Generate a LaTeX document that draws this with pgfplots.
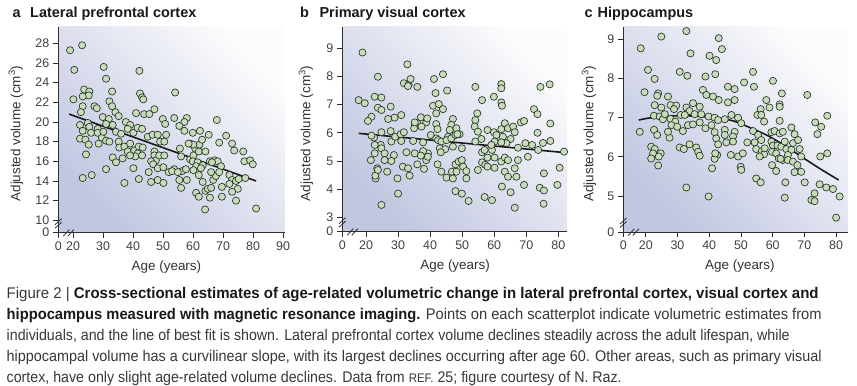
\documentclass[border=0pt]{standalone}
\usepackage{fontspec}
\setmainfont{Liberation Sans}
\usepackage{graphicx}
\usepackage{pgfplots}
\pgfplotsset{compat=1.18}

\definecolor{ptfill}{RGB}{198,220,186}
\definecolor{ptdraw}{RGB}{38,48,38}
\definecolor{bglow}{RGB}{193,198,225}
\definecolor{bghigh}{RGB}{252,252,253}
\definecolor{axcol}{RGB}{45,45,45}
\definecolor{tickcol}{RGB}{64,64,64}
\definecolor{labcol}{RGB}{50,50,50}
\definecolor{captxt}{RGB}{55,55,55}
\definecolor{capbold}{RGB}{25,25,25}

\newlength\capw
\newcommand\capline[2]{\setbox0=\hbox{#2}\capw=\wd0\relax\pgfmathsetmacro\capsx{#1*1.00375/\capw}\scalebox{\capsx}[1]{\box0}}
\newcommand\cb[1]{\textcolor{capbold}{\textbf{#1}}}

\pgfplotsset{
  panel/.style={
    scale only axis, clip=true,
    axis x line=bottom, axis y line=left,
    axis line style={-, draw=axcol, line width=1pt},
    x axis line style={-}, y axis line style={-},
    tick align=outside, major tick length=5.5bp,
    every tick/.style={draw=axcol, line width=0.9pt},
    minor tick num=0,
    ticklabel style={font=\fontsize{12.5}{12.5}\selectfont, text=tickcol},
    label style={font=\fontsize{13.5}{13.5}\selectfont, text=labcol},
    axis background/.style={shade, bottom color=bglow, top color=bghigh, shading angle=-45},
    xlabel={Age (years)},
    ylabel={Adjusted volume (cm\textsuperscript{3})},
  },
  dots/.style={only marks, mark=*, mark size=3.6pt, mark options={fill=ptfill, draw=ptdraw, line width=0.65pt}},
  fitline/.style={no marks, line width=1.6pt, color={rgb,255:red,25;green,25;blue,25}},
}

\begin{document}
\begin{tikzpicture}
\path[use as bounding box] (0bp,0bp) rectangle (857bp,386bp);

% titles
\begin{scope}[every node/.style={anchor=base west, inner sep=0pt, text={rgb,255:red,25;green,25;blue,25}, font=\bfseries\fontsize{14.5}{14.5}\selectfont}]
\node at (12.5bp,368.5bp) {a};
\node at (30bp,368.5bp) {Lateral prefrontal cortex};
\node at (300bp,368.5bp) {b};
\node at (319.3bp,368.5bp) {Primary visual cortex};
\node at (584.5bp,368.5bp) {c};
\node at (597.5bp,368.5bp) {Hippocampus};
\end{scope}

% ---------------- panel a
\begin{axis}[panel, name=A, at={(58.3bp,153.3bp)}, anchor=south west,
  width=226.7bp, height=205.7bp,
  xmin=15.07, xmax=90.63, ymin=8.74, ymax=29.66,
  xtick={15.07,20,30,40,50,60,70,80,90}, xticklabels={0,20,30,40,50,60,70,80,90},
  ytick={8.74,10,12,14,16,18,20,22,24,26,28}, yticklabels={0,10,12,14,16,18,20,22,24,26,28},
  xlabel style={at={(axis description cs:0.477,-0.165)}, anchor=center},
  ylabel style={at={(axis description cs:-0.187,0.482)}, anchor=center}]
\addplot[fitline] coordinates {(18.7,20.8) (81,14.0)};
\addplot[dots] coordinates {
(19.0,27.3) (23.0,27.8) (20.4,25.3) (30.2,25.6) (31.0,24.4) (42.1,25.2) (54.0,23.0)
(20.1,22.3) (23.7,23.3) (25.4,23.1) (25.2,22.7) (23.2,22.6) (23.2,21.6) (22.6,21.0) (27.1,21.6) (27.9,21.4)
(33.0,23.1) (32.1,22.1) (33.0,21.6) (34.1,21.0) (35.2,20.6) (29.9,20.5) (31.9,20.3) (31.0,19.8) (42.3,22.9)
(43.0,22.5) (43.4,22.3) (41.0,20.9) (43.7,20.8) (45.4,20.8) (47.1,21.3) (49.9,20.3) (50.7,19.8) (53.7,20.4)
(57.9,20.4) (57.1,20.0) (55.4,19.6) (57.1,19.1) (59.9,18.9) (62.3,19.1) (65.2,18.7) (67.9,20.2) (71.0,18.6)
(68.7,17.9) (73.0,17.8) (73.7,17.1) (76.7,17.0) (77.1,16.0) (79.0,16.1) (79.9,15.7) (81.0,11.2) (64.0,11.1)
(22.3,19.7) (24.9,19.9) (25.4,19.5) (23.2,19.1) (26.0,18.9) (28.2,19.3) (28.2,18.9) (22.3,18.3) (24.1,18.2)
(25.2,17.7) (24.3,16.7) (28.5,17.8) (29.6,18.4) (31.0,18.1) (32.1,18.0) (30.1,19.0) (33.2,19.7) (34.3,19.0)
(36.0,18.8) (37.6,20.0) (39.0,19.7) (38.2,19.3) (40.1,18.9) (41.5,19.4) (43.0,19.3) (44.9,18.5) (46.5,18.7)
(48.2,18.7) (49.0,18.0) (50.4,18.0) (51.0,18.7) (35.2,18.0) (35.4,17.4) (37.1,17.5) (39.0,17.8) (38.2,17.0)
(40.4,17.1) (41.9,17.5) (43.2,17.4) (41.5,16.8) (43.0,16.6) (40.7,16.5) (39.0,16.6) (36.5,16.3) (33.2,16.4)
(34.3,15.9) (31.0,15.2) (23.2,14.3) (26.2,14.6) (37.1,13.8) (40.1,15.3) (41.9,14.2) (45.2,14.9) (46.0,13.9)
(48.2,14.1) (50.1,13.8) (47.1,17.0) (47.1,16.6) (47.6,16.1) (46.0,16.0) (46.7,15.7) (48.7,16.6) (50.4,16.6)
(48.2,15.3) (50.1,15.4) (51.9,14.9) (53.7,15.2) (53.0,15.0) (55.6,17.3) (56.0,16.5) (56.3,15.0) (54.9,14.9)
(55.4,14.1) (56.0,13.3) (57.9,14.1) (57.6,15.2) (59.0,16.2) (59.0,17.8) (60.7,17.3) (60.1,16.6) (59.9,16.0)
(61.5,15.9) (61.0,15.5) (60.1,15.1) (61.9,17.0) (62.1,17.7) (63.0,18.2) (64.1,17.0) (63.2,15.6) (62.6,15.3)
(61.9,14.6) (63.2,13.9) (64.1,13.0) (64.9,13.2) (61.0,12.8) (61.9,12.4) (65.6,12.3) (66.0,13.3) (66.7,14.1)
(67.6,14.5) (66.0,14.9) (67.1,16.1) (68.2,16.0) (69.3,15.5) (68.7,14.9) (65.6,16.0) (66.3,15.9) (69.6,13.4)
(69.6,12.4) (72.1,14.6) (73.0,14.1) (72.1,13.7) (74.3,14.0) (75.2,14.2) (74.9,13.2) (73.0,12.9) (74.3,12.0)
(77.4,14.3) (60.1,17.7) (58.5,17.8)
};
\end{axis}

% ---------------- panel b
\begin{axis}[panel, name=B, at={(342.3bp,154.3bp)}, anchor=south west,
  width=224.7bp, height=204.7bp,
  xmin=12.60, xmax=82.7, ymin=2.489, ymax=9.756,
  xtick={12.60,20,30,40,50,60,70,80}, xticklabels={0,20,30,40,50,60,70,80},
  ytick={2.489,3,4,5,6,7,8,9}, yticklabels={0,3,4,5,6,7,8,9},
  xlabel style={at={(axis description cs:0.502,-0.166)}, anchor=center},
  ylabel style={at={(axis description cs:-0.1616,0.48)}, anchor=center}]
\addplot[fitline] coordinates {(17.7,5.98) (82.7,5.29)};
\addplot[dots] coordinates {
(18.9,8.85) (32.9,8.43) (23.7,7.99) (31.8,7.76) (33.3,7.72) (33.9,7.91) (33.1,7.66) (36.0,7.63) (41.2,7.91)
(44.0,8.08) (41.7,7.41) (45.3,7.50) (54.1,7.63) (62.2,7.73) (62.2,7.58) (77.3,7.72) (74.4,7.63) (56.2,7.16)
(59.9,7.28) (62.2,7.08) (62.4,6.96) (17.7,7.16) (19.6,7.05) (22.7,7.28) (24.8,7.25) (23.7,6.89) (24.8,6.81)
(27.7,6.93) (31.0,6.63) (28.9,6.54) (26.9,6.49) (21.7,6.57) (20.6,6.42) (37.1,6.55) (38.8,6.37) (36.0,6.34)
(35.2,6.28) (35.0,6.16) (37.3,6.22) (40.9,6.96) (42.7,7.02) (44.0,6.84) (41.9,6.69) (41.9,6.31) (42.3,6.13)
(47.1,6.49) (46.6,6.28) (48.2,6.16) (46.1,6.10) (49.2,5.95) (54.7,6.69) (54.1,6.45) (53.9,6.22) (54.9,6.04)
(57.9,6.10) (59.9,6.02) (60.7,5.92) (62.2,6.13) (63.3,6.34) (64.3,6.16) (65.9,6.22) (66.4,6.02) (68.3,6.37)
(69.3,6.42) (72.4,6.84) (73.5,6.66) (73.5,6.00) (77.5,6.33) (75.2,5.64) (77.5,5.71) (81.8,5.33) (80.4,4.76)
(79.7,4.15) (74.2,4.05) (75.5,3.95) (75.4,3.48) (66.4,3.34) (65.1,3.89) (69.3,4.15) (62.4,4.09) (59.3,3.61)
(57.0,3.72) (52.0,3.58) (49.9,3.84) (47.9,3.93) (30.0,3.84) (24.8,3.44) (29.8,4.38) (26.6,4.62) (23.0,4.38)
(22.9,4.48) (23.5,4.74) (21.5,5.03) (22.7,5.27) (24.6,5.57) (24.8,5.45) (22.5,5.83) (21.7,5.90) (22.7,5.57)
(24.8,6.02) (27.7,6.06) (27.9,5.69) (29.1,5.86) (30.8,5.95) (31.8,6.02) (31.0,5.71) (32.6,5.31) (35.2,5.27)
(34.7,5.71) (37.8,5.66) (40.2,5.92) (41.9,5.80) (42.5,5.74) (43.5,5.69) (45.6,5.86) (45.1,5.74) (46.6,5.80)
(47.9,5.92) (48.5,5.95) (49.9,5.45) (47.1,5.51) (43.0,5.45) (44.7,5.42) (43.3,5.31) (39.3,5.27) (37.8,5.35)
(37.1,5.19) (38.8,5.03) (39.3,5.15) (25.8,5.27) (28.7,5.21) (27.9,5.00) (25.8,5.03) (23.7,4.68) (31.5,4.80)
(33.1,4.74) (33.6,4.48) (38.1,4.72) (42.3,4.88) (43.5,4.62) (45.1,4.41) (46.8,4.62) (47.1,4.38) (48.2,4.62)
(47.9,4.88) (48.9,4.98) (49.9,5.03) (50.3,4.80) (51.3,4.64) (51.3,4.38) (54.9,4.68) (56.2,4.95) (57.2,4.86)
(57.9,5.12) (59.3,5.39) (60.1,5.12) (56.2,5.31) (57.0,5.39) (57.9,4.80) (60.1,4.76) (62.2,4.98) (63.3,5.12)
(64.3,5.03) (63.3,4.62) (64.3,4.44) (66.4,4.74) (66.9,4.44) (67.4,5.03) (70.5,5.15) (67.4,5.47) (69.7,5.63)
(71.8,5.57) (73.7,5.39) (75.5,4.56) (62.7,5.86) (65.1,5.78) (63.8,5.63) (62.2,5.66) (60.1,5.69) (59.1,5.57)
(56.0,5.78) (54.1,5.69) (36.0,4.88) (35.2,6.37) (39.1,6.51)
};
\end{axis}

% ---------------- panel c
\begin{axis}[panel, name=C, at={(623.3bp,154bp)}, anchor=south west,
  width=224.7bp, height=205bp,
  xmin=12.92, xmax=83.74, ymin=4.084, ymax=9.314,
  xtick={12.92,20,30,40,50,60,70,80}, xticklabels={0,20,30,40,50,60,70,80},
  ytick={4.084,5,6,7,8,9}, yticklabels={0,5,6,7,8,9},
  xlabel style={at={(axis description cs:0.519,-0.166)}, anchor=center},
  ylabel style={at={(axis description cs:-0.1527,0.48)}, anchor=center}]
\addplot[fitline, smooth] coordinates {(17.8,6.94) (21.8,7.00) (30.2,7.05) (37.5,7.03) (42.8,6.98) (47.5,6.92) (53.3,6.73) (58.5,6.54) (63.8,6.29) (69.0,6.01) (74.3,5.73) (80.8,5.41)};
\addplot[dots] coordinates {
(32.8,9.21) (24.9,9.07) (43.0,9.03) (18.4,8.77) (44.0,8.75) (34.1,8.64) (40.1,8.58) (42.2,8.47) (20.7,8.22)
(30.7,8.17) (33.1,8.07) (22.8,7.99) (38.8,8.05) (41.9,8.11) (53.8,8.17) (60.1,7.94) (51.0,7.90) (54.1,7.79)
(45.9,7.79) (48.0,7.73) (19.6,7.65) (23.9,7.62) (23.6,7.56) (38.0,7.71) (39.1,7.58) (41.2,7.54) (43.0,7.45)
(45.9,7.39) (48.0,7.45) (58.0,7.45) (62.9,7.62) (70.9,7.58) (62.2,7.34) (62.2,7.28) (56.2,7.22) (59.0,7.26)
(55.2,7.07) (56.4,7.07) (57.3,6.90) (62.2,6.92) (77.2,7.05) (73.4,6.88) (75.3,6.77) (74.1,6.58) (27.0,7.54)
(22.8,7.32) (24.9,7.26) (27.8,7.32) (29.6,7.31) (28.9,7.22) (32.8,7.26) (34.9,7.37) (37.0,7.28) (33.8,7.17)
(35.4,7.09) (31.0,7.07) (32.3,7.07) (22.6,7.05) (24.4,7.03) (25.4,6.96) (26.0,7.09) (27.8,6.97) (29.3,6.90)
(37.5,7.09) (39.8,7.03) (41.7,7.00) (37.0,6.88) (42.8,6.94) (44.9,6.96) (47.0,7.07) (49.1,7.00) (50.1,6.86)
(33.3,6.81) (34.9,6.83) (28.1,6.81) (29.9,6.77) (31.7,6.66) (27.5,6.49) (27.0,6.64) (22.6,6.69) (23.6,6.56)
(18.1,6.64) (21.7,6.26) (22.8,6.20) (22.3,6.09) (24.7,6.09) (21.7,5.96) (24.1,6.01) (23.9,5.78) (30.7,6.24)
(32.0,6.20) (33.8,6.32) (35.9,6.24) (36.5,6.13) (37.0,6.03) (38.8,6.73) (40.7,6.81) (41.7,6.63) (42.2,6.47)
(42.8,6.32) (42.5,6.05) (41.7,5.95) (41.9,6.09) (44.9,6.69) (44.9,6.56) (45.4,6.37) (48.0,6.64) (47.5,6.52)
(47.5,6.39) (46.8,6.05) (49.1,6.01) (50.6,6.09) (49.9,5.75) (50.1,5.67) (52.0,6.37) (53.8,6.66) (55.4,6.56)
(54.3,6.37) (56.4,6.43) (54.8,6.20) (56.6,6.15) (57.3,6.07) (55.9,6.01) (57.5,6.22) (59.6,6.63) (60.6,6.66)
(62.2,6.60) (63.2,6.64) (59.6,6.39) (60.1,6.29) (61.5,6.29) (59.8,6.13) (61.1,6.09) (62.7,6.26) (63.8,6.39)
(64.3,6.20) (65.9,6.75) (66.9,6.58) (66.4,6.35) (68.0,6.43) (68.5,6.20) (69.0,6.01) (65.9,6.18) (64.8,6.05)
(61.9,5.96) (63.2,5.92) (64.8,5.92) (66.4,5.88) (67.8,5.79) (66.9,5.61) (69.0,5.62) (59.8,5.79) (61.1,5.64)
(62.5,5.95) (54.8,5.45) (56.2,5.35) (64.0,5.35) (63.8,4.96) (70.1,5.35) (74.8,5.30) (76.9,5.22) (79.0,5.18)
(81.1,4.99) (73.2,5.07) (72.2,4.90) (73.2,4.87) (75.0,6.01) (77.2,6.09) (80.0,4.45) (40.9,5.71) (32.8,5.22)
(39.8,4.99)
};
\end{axis}

% axis breaks
\foreach \P in {A,B,C}{
  \draw[axcol, line width=0.8pt] ([shift={(-3.3bp,4.5bp)}]\P.south west) -- ++(6.6bp,6bp);
  \draw[axcol, line width=0.8pt] ([shift={(-3.3bp,8bp)}]\P.south west) -- ++(6.6bp,6bp);
  \draw[axcol, line width=0.8pt] ([shift={(5bp,-3.5bp)}]\P.south west) -- ++(6bp,6.6bp);
  \draw[axcol, line width=0.8pt] ([shift={(9.5bp,-3.5bp)}]\P.south west) -- ++(6bp,6.6bp);
}

% caption
\begin{scope}[every node/.style={anchor=base west, inner sep=0pt, text=captxt, font=\fontsize{15.5}{15.5}\selectfont}]
\node at (6.5bp,87bp) {\capline{812}{Figure 2 | \cb{Cross-sectional estimates of age-related volumetric change in lateral prefrontal cortex, visual cortex and}}};
\node at (6.5bp,66.2bp) {\capline{815}{\cb{hippocampus measured with magnetic resonance imaging.} Points on each scatterplot indicate volumetric estimates from}};
\node at (6.5bp,45.4bp) {\capline{783}{individuals, and the line of best fit is shown. Lateral prefrontal cortex volume declines steadily across the adult lifespan, while}};
\node at (6.5bp,24.6bp) {\capline{815}{hippocampal volume has a curvilinear slope, with its largest declines occurring after age 60. Other areas, such as primary visual}};
\node at (6.5bp,3.8bp) {\capline{615}{cortex, have only slight age-related volume declines. Data from {\fontsize{12.5}{12.5}\selectfont REF.} 25; figure courtesy of N. Raz.}};
\end{scope}
\end{tikzpicture}
\end{document}
